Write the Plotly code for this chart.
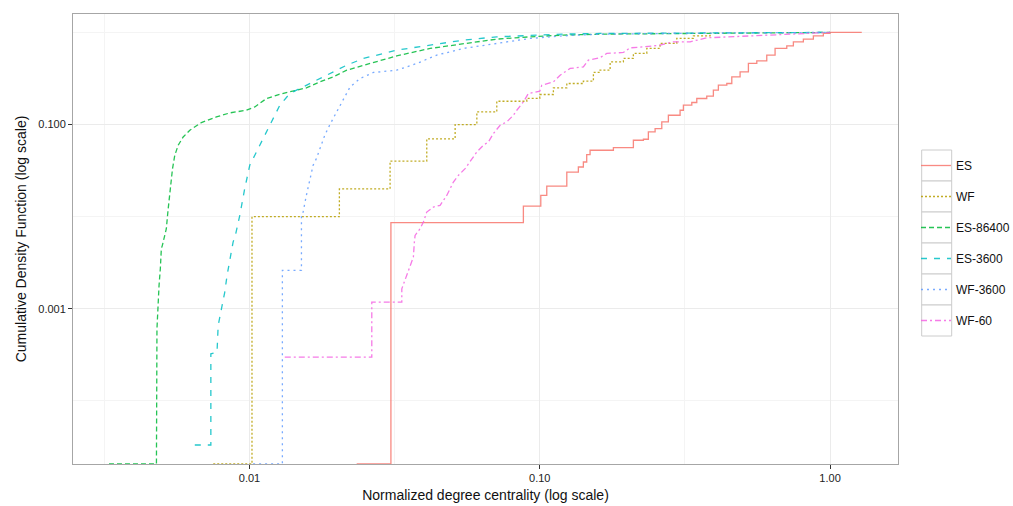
import plotly.graph_objects as go

# Normalized degree centrality (x) and cumulative share of nodes (y) per network.
# A y value of 0 marks the empty start of an ECDF (drawn on the lower panel edge).
es_x = [0.0234, 0.0307, 0.0878, 0.1008, 0.1057, 0.1239, 0.1358, 0.1413, 0.1451, 0.149,
        0.1793, 0.2101, 0.2275, 0.2366, 0.2496, 0.2632, 0.2773, 0.3043, 0.3124, 0.3339,
        0.3474, 0.376, 0.3963, 0.4123, 0.4408, 0.4586, 0.4898, 0.5232, 0.5592, 0.6052,
        0.6465, 0.7093, 0.7475, 0.8091, 0.876, 0.948, 1.0, 1.286]
es_y = [0, 0.0086, 0.013, 0.017, 0.0215, 0.0305, 0.0346, 0.0392, 0.0472, 0.0526,
        0.0562, 0.0675, 0.0692, 0.0831, 0.0905, 0.1067, 0.1262, 0.143, 0.1621, 0.1734,
        0.1917, 0.203, 0.2359, 0.2674, 0.2791, 0.3291, 0.373, 0.4603, 0.4913, 0.5667,
        0.6701, 0.7151, 0.7904, 0.8457, 0.918, 0.975, 1.0, 1.0]

wf_x = [0.0075, 0.0102, 0.0204, 0.0305, 0.0408, 0.0511, 0.0607, 0.0711, 0.0902, 0.100,
        0.1114, 0.1239, 0.1413, 0.153, 0.1613, 0.1747, 0.1941, 0.2101, 0.2337, 0.2596,
        0.2964, 0.3382, 0.3861]
wf_y = [0, 0.010, 0.020, 0.040, 0.070, 0.100, 0.137, 0.179, 0.192, 0.212,
        0.250, 0.279, 0.296, 0.368, 0.389, 0.479, 0.522, 0.591, 0.670, 0.759,
        0.861, 0.918, 1.0]

es86400_x = [0.00328, 0.00478, 0.0048, 0.00484, 0.00488, 0.00493, 0.00497, 0.00501,
             0.00511, 0.00517, 0.00524, 0.00531, 0.00543, 0.00553, 0.00568, 0.00591,
             0.00623, 0.00683, 0.00769, 0.00855, 0.00976, 0.01043, 0.01144, 0.01272,
             0.01413, 0.0157, 0.01747, 0.01941, 0.02163, 0.02468, 0.03217, 0.0419,
             0.05455, 0.0711, 0.0926, 0.1206, 0.1613, 0.3566, 1.0]
es86400_y = [0, 0, 0.000606, 0.00118, 0.00179, 0.00272, 0.00449, 0.00488,
             0.00626, 0.0074, 0.0117, 0.0185, 0.0332, 0.0464, 0.0596, 0.0733,
             0.0867, 0.1051, 0.1209, 0.1337, 0.143, 0.1553, 0.1917, 0.2135,
             0.2301, 0.25, 0.2904, 0.3291, 0.3893, 0.4412, 0.5568, 0.6701,
             0.7594, 0.8457, 0.896, 0.935, 0.958, 0.983, 1.0]

es3600_x = [0.00648, 0.00736, 0.00736, 0.00773, 0.0078, 0.0080, 0.00822, 0.00837,
            0.00855, 0.00878, 0.00894, 0.00926, 0.00963, 0.01002, 0.01043, 0.01099,
            0.01175, 0.01272, 0.01377, 0.0153, 0.01747, 0.01941, 0.02163, 0.02468,
            0.03217, 0.0419, 0.05455, 0.0711, 0.0926, 0.1206, 0.1613, 1.0]
es3600_y = [0.0000332, 0.0000332, 0.000324, 0.000338, 0.000658, 0.001, 0.00152, 0.0023,
            0.0035, 0.0053, 0.00626, 0.01033, 0.0202, 0.0361, 0.0464, 0.0647,
            0.0983, 0.1621, 0.2173, 0.2562, 0.3162, 0.3675, 0.4412, 0.5217,
            0.6421, 0.7278, 0.8246, 0.896, 0.935, 0.958, 0.975, 1.0]

wf3600_x = [0.01029, 0.01298, 0.01298, 0.0151, 0.0151, 0.0153, 0.0157, 0.01613,
            0.01656, 0.017, 0.01747, 0.01817, 0.01895, 0.02051, 0.02221, 0.02404,
            0.02672, 0.03217, 0.03769, 0.04418, 0.05455, 0.0711, 0.0926, 0.1206,
            0.1613, 0.3566, 1.0]
wf3600_y = [0, 0, 0.00261, 0.00261, 0.0103, 0.01122, 0.017, 0.0259,
            0.0361, 0.0427, 0.0549, 0.0765, 0.1008, 0.1621, 0.2562, 0.3162,
            0.3675, 0.3893, 0.4603, 0.5667, 0.6701, 0.7594, 0.8606, 0.918,
            0.958, 0.983, 1.0]

wf60_x = [0.01323, 0.02638, 0.02638, 0.03347, 0.03347, 0.03482, 0.03574, 0.03669,
          0.03698, 0.03719, 0.0387, 0.03972, 0.0408, 0.043, 0.04535, 0.04781,
          0.0504, 0.05244, 0.0553, 0.05753, 0.0607, 0.06393, 0.06652, 0.06922,
          0.073, 0.07697, 0.08112, 0.08334, 0.0878, 0.09135, 0.1, 0.1016,
          0.1114, 0.1175, 0.1272, 0.1413, 0.147, 0.1613, 0.1701, 0.1941,
          0.2047, 0.2275, 0.2596, 0.2886, 0.3294, 0.376, 0.4645, 0.6052,
          0.7884, 1.0]
wf60_y = [0.000298, 0.000298, 0.00118, 0.00118, 0.00165, 0.0023, 0.00296, 0.00364,
          0.0053, 0.00626, 0.0074, 0.00874, 0.01122, 0.01271, 0.01327, 0.017,
          0.02377, 0.02811, 0.0332, 0.0392, 0.05037, 0.0596, 0.0647, 0.07983,
          0.0983, 0.1067, 0.1262, 0.143, 0.1761, 0.2173, 0.2301, 0.2674,
          0.2904, 0.3435, 0.4062, 0.4228, 0.5, 0.5322, 0.5911, 0.6062,
          0.6802, 0.6975, 0.7278, 0.7904, 0.7904, 0.8735, 0.896, 0.935,
          0.958, 1.0]

series_names = ["ES", "WF", "ES-86400", "ES-3600", "WF-3600", "WF-60"]

X_RANGE_LOG = [-2.608, 0.234]
Y_RANGE_LOG = [-4.685, 0.2]
Y_FLOOR = 10 ** Y_RANGE_LOG[0]


def on_floor(values):
    """Zero cumulative share cannot sit on a log axis; put it on the panel edge."""
    return [v if v > 0 else Y_FLOOR for v in values]


styles = {
    "ES": dict(color="#F8766D", dash="solid", shape="hv"),
    "WF": dict(color="#B79F00", dash="2px,2px", shape="hv"),
    "ES-86400": dict(color="#00BA38", dash="5px,3px", shape="linear"),
    "ES-3600": dict(color="#00BFC4", dash="6px,7px", shape="linear"),
    "WF-3600": dict(color="#619CFF", dash="2px,4px", shape="linear"),
    "WF-60": dict(color="#F564E3", dash="6px,3px,2px,3px", shape="linear"),
}
data = {
    "ES": (es_x, es_y),
    "WF": (wf_x, wf_y),
    "ES-86400": (es86400_x, es86400_y),
    "ES-3600": (es3600_x, es3600_y),
    "WF-3600": (wf3600_x, wf3600_y),
    "WF-60": (wf60_x, wf60_y),
}

fig = go.Figure()
for name in series_names:
    xs, ys = data[name]
    st = styles[name]
    fig.add_trace(go.Scatter(
        x=xs, y=on_floor(ys), name=name, mode="lines", legendgroup=name,
        line=dict(color=st["color"], dash=st["dash"], width=1.3, shape=st["shape"]),
        opacity=0.85,
    ))

FONT = "Liberation Sans, Arial, Helvetica, sans-serif"
GRID_MAJOR = "#ebebeb"
GRID_MINOR = "#f4f4f4"

fig.update_xaxes(
    type="log", range=X_RANGE_LOG, automargin=False,
    tickvals=[0.01, 0.1, 1.0], ticktext=["0.01", "0.10", "1.00"],
    ticks="outside", ticklen=4, tickcolor="#333333", tickwidth=1,
    tickfont=dict(size=11, color="#222222", family=FONT),
    showgrid=True, gridcolor=GRID_MAJOR, gridwidth=1,
    minor=dict(tickvals=[10 ** -2.5, 10 ** -1.5, 10 ** -0.5], showgrid=True,
               gridcolor=GRID_MINOR, gridwidth=1, ticklen=0),
    showline=True, mirror=True, linecolor="#a6a6a6", linewidth=1,
    title=dict(text="Normalized degree centrality (log scale)",
               font=dict(size=14, color="#111111", family=FONT), standoff=6),
    zeroline=False,
)
fig.update_yaxes(
    type="log", range=Y_RANGE_LOG, automargin=False,
    tickvals=[0.1, 0.001], ticktext=["0.100", "0.001"],
    ticks="outside", ticklen=4, tickcolor="#333333", tickwidth=1,
    tickfont=dict(size=11, color="#222222", family=FONT),
    showgrid=True, gridcolor=GRID_MAJOR, gridwidth=1,
    minor=dict(tickvals=[1.0, 0.01, 0.0001], showgrid=True,
               gridcolor=GRID_MINOR, gridwidth=1, ticklen=0),
    showline=True, mirror=True, linecolor="#a6a6a6", linewidth=1,
    title=dict(text="Cumulative Density Function (log scale)",
               font=dict(size=14, color="#111111", family=FONT), standoff=8),
    zeroline=False,
)

# Plot-area geometry in pixels, used to place the framed legend keys
L, R, T, B = 73, 898, 14, 464
W, H = R - L, B - T


def px_x(p):
    return (p - L) / W


def px_y(p):
    return (B - p) / H


key_left, key_right = 921.7, 951.7
row_top, row_h = 150, 31
shapes = []
for i in range(len(series_names)):
    y0 = row_top + i * row_h
    shapes.append(dict(
        type="rect", xref="paper", yref="paper", layer="below",
        x0=px_x(key_left), x1=px_x(key_right), y0=px_y(y0 + row_h), y1=px_y(y0),
        line=dict(color="#cccccc", width=1), fillcolor="white",
    ))

fig.update_layout(
    width=1013, height=506,
    margin=dict(l=L, r=1013 - R, t=T, b=506 - B, autoexpand=False),
    paper_bgcolor="white", plot_bgcolor="white",
    font=dict(family=FONT, size=12, color="#111111"),
    showlegend=True,
    legend=dict(
        x=px_x(916), y=px_y(row_top + 1), xanchor="left", yanchor="top",
        tracegroupgap=12, font=dict(size=12, family=FONT, color="#111111"),
        bgcolor="rgba(0,0,0,0)", borderwidth=0, itemwidth=30,
    ),
    shapes=shapes,
)

fig.write_html("out.html")
